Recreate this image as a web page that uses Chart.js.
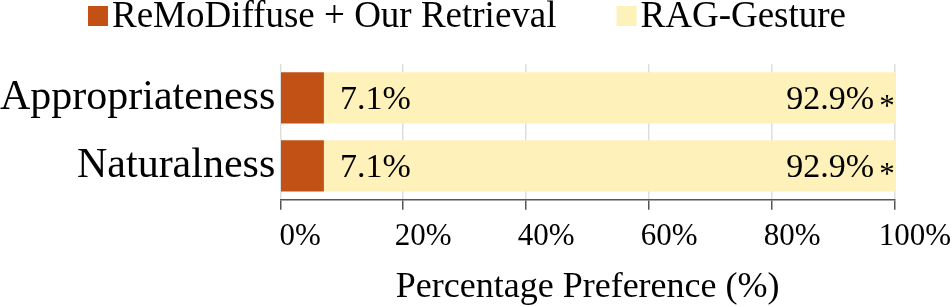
<!DOCTYPE html>
<html>
<head>
<meta charset="utf-8">
<script src="https://cdn.jsdelivr.net/npm/chart.js@4.4.1/dist/chart.umd.min.js"></script>
<style>
  html, body { margin: 0; padding: 0; background: #fff; }
  #wrap { width: 952px; height: 307px; }
</style>
</head>
<body>
<div id="wrap"><canvas id="grafico"></canvas></div>
<script>
const categorias = ["Appropriateness", "Naturalness"];
const seriesNomes = ["ReMoDiffuse + Our Retrieval", "RAG-Gesture"];
const remoDiffuse = [7.1, 7.1];
const ragGesture = [92.9, 92.9];
const significancia = ["*", "*"];
const ticksX = [0, 20, 40, 60, 80, 100];

const laranja = "#C25116";
const amarelo = "#FFF1BA";
const fonte = "'Liberation Serif', serif";

const ctx = document.getElementById("grafico").getContext("2d");

// legenda desenhada a mao para ficar com o espacamento do original
const legendaPlugin = {
  id: "legendaManual",
  afterDraw(chart) {
    const c = chart.ctx;
    const cores = [laranja, amarelo];
    c.save();
    c.font = "37px " + fonte;
    c.textBaseline = "middle";
    const larguras = seriesNomes.map((n) => c.measureText(n).width);
    const caixa = 20, gapTexto = 4, gapItem = 60;
    const total = larguras.reduce((a, w) => a + caixa + gapTexto + w, 0) + gapItem;
    let x = chart.width / 2 - total / 2 - 9;
    const y = 16;
    seriesNomes.forEach((nome, i) => {
      c.fillStyle = cores[i];
      c.fillRect(x, y - 10, caixa, caixa);
      c.fillStyle = "#000";
      c.textAlign = "left";
      c.fillText(nome, x + caixa + gapTexto, y + 1);
      x += caixa + gapTexto + larguras[i] + gapItem;
    });
    c.restore();
  },
};

// rotulos de valor dentro das barras
const rotulosPlugin = {
  id: "rotulos",
  afterDatasetsDraw(chart) {
    const c = chart.ctx;
    c.save();
    c.fillStyle = "#000";
    const m0 = chart.getDatasetMeta(0);
    const m1 = chart.getDatasetMeta(1);
    m0.data.forEach((bar, i) => {
      c.font = "34px " + fonte;
      c.textAlign = "left";
      c.textBaseline = "middle";
      c.fillText(remoDiffuse[i].toFixed(1) + "%", bar.x + 16, bar.y + 2);
    });
    m1.data.forEach((bar, i) => {
      c.font = "34px " + fonte;
      c.textAlign = "right";
      c.textBaseline = "middle";
      c.fillText(ragGesture[i].toFixed(1) + "%", bar.x - 21, bar.y + 2);
      c.font = "31px " + fonte;
      c.textAlign = "center";
      c.textBaseline = "alphabetic";
      c.fillText(significancia[i], bar.x - 8, bar.y + 18);
    });
    c.restore();
  },
};

new Chart(ctx, {
  type: "bar",
  data: {
    labels: categorias,
    datasets: [
      {
        label: seriesNomes[0],
        data: remoDiffuse,
        backgroundColor: laranja,
        barPercentage: 0.756,
        categoryPercentage: 1,
      },
      {
        label: seriesNomes[1],
        data: ragGesture,
        backgroundColor: amarelo,
        barPercentage: 0.756,
        categoryPercentage: 1,
      },
    ],
  },
  options: {
    indexAxis: "y",
    responsive: true,
    maintainAspectRatio: false,
    animation: false,
    layout: { padding: { top: 64, right: 57, bottom: 1, left: -5 } },
    plugins: {
      legend: { display: false },
      tooltip: { enabled: false },
    },
    scales: {
      x: {
        stacked: true,
        min: 0,
        max: 100,
        afterBuildTicks: (axis) => {
          axis.ticks = ticksX.map((v) => ({ value: v }));
        },
        grid: {
          color: "#dedede",
          lineWidth: 1.5,
          tickColor: "#555",
          tickLength: 10,
        },
        border: { color: "#555", width: 1.5 },
        ticks: {
          color: "#000",
          font: { family: fonte, size: 31 },
          padding: 8,
          labelOffset: 20,
          maxRotation: 0,
          callback: (v) => v + "%",
        },
        title: {
          display: true,
          text: "Percentage Preference (%)",
          color: "#000",
          font: { family: fonte, size: 36, lineHeight: 1.0 },
          padding: { top: 7, bottom: 0 },
        },
      },
      y: {
        stacked: true,
        grid: { display: false, drawTicks: false },
        border: { display: false },
        ticks: {
          color: "#000",
          font: { family: fonte, size: 42 },
          padding: 5,
        },
      },
    },
  },
  plugins: [legendaPlugin, rotulosPlugin],
});
</script>
</body>
</html>
